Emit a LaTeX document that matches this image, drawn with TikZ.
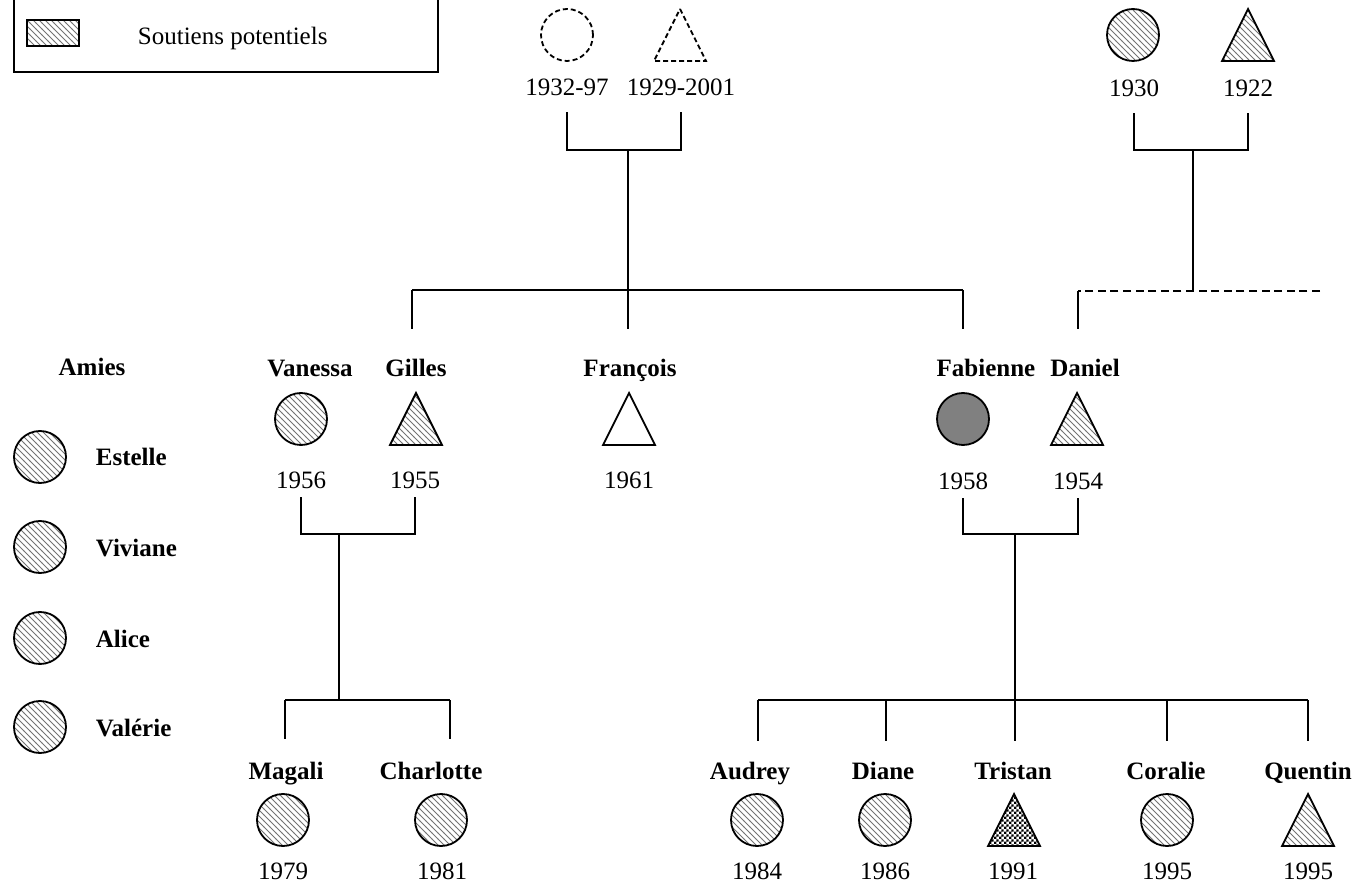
\documentclass[tikz,border=0pt]{standalone}
\usepackage{fontspec}
\setmainfont{Liberation Serif}
\usetikzlibrary{patterns,positioning}
\pgfdeclarepatternformonly{damier}{\pgfpointorigin}{\pgfqpoint{2.4pt}{2.4pt}}{\pgfqpoint{2.4pt}{2.4pt}}%
{\pgfpathrectangle{\pgfpointorigin}{\pgfqpoint{1.2pt}{1.2pt}}%
\pgfpathrectangle{\pgfqpoint{1.2pt}{1.2pt}}{\pgfqpoint{1.2pt}{1.2pt}}%
\pgfusepath{fill}}

\begin{document}
\begin{tikzpicture}[x=0.5pt,y=-0.5pt,line width=0.9pt,font=\fontsize{12.5}{15}\selectfont]
\tikzstyle{femme}=[circle,draw=black,minimum size=26pt,inner sep=0pt]
\tikzstyle{hachure}=[pattern=north west lines,pattern color=black!55]
\tikzstyle{nom}=[font=\fontsize{12.5}{15}\selectfont\bfseries,inner sep=0pt,anchor=base]
\tikzstyle{annee}=[inner sep=0pt,anchor=base]
\tikzstyle{tirets}=[dash pattern=on 2.5pt off 1.5pt]
\tikzstyle{pointille}=[dash pattern=on 4pt off 2.3pt]
\tikzset{homme/.pic={\path[draw,pic actions] (0,-26) -- (26,26) -- (-26,26) -- cycle;}}
\useasboundingbox (0,0) rectangle (1355,887);
% legende
\draw (14,-10) rectangle (438,72);
\draw[hachure,line width=0.6pt] (27,20) rectangle (79,46);
\node [annee,anchor=base west] (leg) at (137,45) {Soutiens potentiels};
% grands-parents
\node [femme,tirets] (gm1) at (567,35) {};
\pic [tirets] at (680,35) {homme};
\node [annee] (a3297) at (567,96) {1932-97};
\node [annee] (a2901) at (681,96) {1929-2001};
\node [femme,hachure] (gm2) at (1133,35) {};
\pic [hachure] at (1248,35) {homme};
\node [annee] (a1930) at (1134,97) {1930};
\node [annee] (a1922) at (1248,97) {1922};
\coordinate (u1) at (628,150);
\coordinate (f1) at (628,290);
\coordinate (f1l) at (412,290);
\coordinate (f1r) at (963,290);
\coordinate (u2) at (1193,150);
\coordinate (f2) at (1193,291);
\coordinate (f2e) at (1320,291);
\coordinate (f2w) at (1078,291);
% parents
\node [nom] (van) at (310,377) {Vanessa};
\node [nom] (gil) at (416,377) {Gilles};
\node [nom] (fra) at (630,377) {François};
\node [nom] (fab) at (986,377) {Fabienne};
\node [nom] (dan) at (1085,377) {Daniel};
\node [femme,hachure] (s-van) at (301,419) {};
\pic [hachure] at (416,419) {homme};
\pic [fill=white] at (629,419) {homme};
\node [femme,fill=gray] (s-fab) at (963,419) {};
\pic [hachure] at (1077,419) {homme};
\node [annee] (a1956) at (301,488) {1956};
\node [annee] (a1955) at (415,488) {1955};
\node [annee] (a1961) at (629,488) {1961};
\node [annee] (a1958) at (963,489) {1958};
\node [annee] (a1954) at (1078,489) {1954};
\coordinate (u3) at (339,534);
\coordinate (f3) at (339,700);
\coordinate (f3l) at (285,700);
\coordinate (f3r) at (450,700);
\coordinate (u4) at (1015,534);
\coordinate (f4) at (1015,700);
\coordinate (d1) at (758,700);
\coordinate (d2) at (886,700);
\coordinate (d3) at (1015,700);
\coordinate (d4) at (1167,700);
\coordinate (d5) at (1308,700);
% enfants
\node [nom] (mag) at (286,779) {Magali};
\node [nom] (cha) at (431,779) {Charlotte};
\node [nom] (aud) at (750,779) {Audrey};
\node [nom] (dia) at (883,779) {Diane};
\node [nom] (tri) at (1013,779) {Tristan};
\node [nom] (cor) at (1166,779) {Coralie};
\node [nom] (que) at (1308,779) {Quentin};
\node [femme,hachure] (s-mag) at (283,820) {};
\node [femme,hachure] (s-cha) at (441,820) {};
\node [femme,hachure] (s-aud) at (757,820) {};
\node [femme,hachure] (s-dia) at (885,820) {};
\pic [pattern=damier] at (1014,820) {homme};
\node [femme,hachure] (s-cor) at (1167,820) {};
\pic [hachure] at (1308,820) {homme};
\node [annee] (a1979) at (283,879) {1979};
\node [annee] (a1981) at (442,879) {1981};
\node [annee] (a1984) at (757,879) {1984};
\node [annee] (a1986) at (885,879) {1986};
\node [annee] (a1991) at (1013,879) {1991};
\node [annee] (a1995) at (1167,879) {1995};
\node [annee] (b1995) at (1308,879) {1995};
% amies
\node [nom] (amies) at (92,376) {Amies};
\foreach \n/\y [count=\i] in {Estelle/457,Viviane/547,Alice/638,Valérie/727}
{
\node [femme,hachure] (ami\i) at (40,\y) {};
\node [nom,anchor=base west] (nami\i) at (95,\y+9) {\n};
}
% liens
\draw[shorten <=7.5pt] (a3297.south) |- (u1);
\draw[shorten <=7.5pt] (a2901.south) |- (u1);
\draw (u1) -- (f1);
\draw (f1l) -- (f1r);
\draw[shorten >=15pt] (f1l) -- (f1l |- gil.north);
\draw[shorten >=15pt] (f1) -- (f1 |- fra.north);
\draw[shorten >=15pt] (f1r) -- (f1r |- fab.north);
\draw[shorten <=7.5pt] (a1930.south) |- (u2);
\draw[shorten <=7.5pt] (a1922.south) |- (u2);
\draw (u2) -- (f2);
\draw[pointille] (f2e) -- (f2w);
\draw[shorten >=15pt] (f2w) -- (f2w |- dan.north);
\draw[shorten <=4pt] (a1956.south) |- (u3);
\draw[shorten <=4pt] (a1955.south) |- (u3);
\draw (u3) -- (f3);
\draw (f3l) -- (f3r);
\draw[shorten >=11pt] (f3l) -- (f3l |- mag.north);
\draw[shorten >=11pt] (f3r) -- (f3r |- cha.north);
\draw[shorten <=4pt] (a1958.south) |- (u4);
\draw[shorten <=4pt] (a1954.south) |- (u4);
\draw (u4) -- (f4);
\draw (d1) -- (d5);
\draw[shorten >=10pt] (d1) -- (d1 |- aud.north);
\draw[shorten >=10pt] (d2) -- (d2 |- dia.north);
\draw[shorten >=10pt] (d3) -- (d3 |- tri.north);
\draw[shorten >=10pt] (d4) -- (d4 |- cor.north);
\draw[shorten >=10pt] (d5) -- (d5 |- que.north);
\end{tikzpicture}
\end{document}
